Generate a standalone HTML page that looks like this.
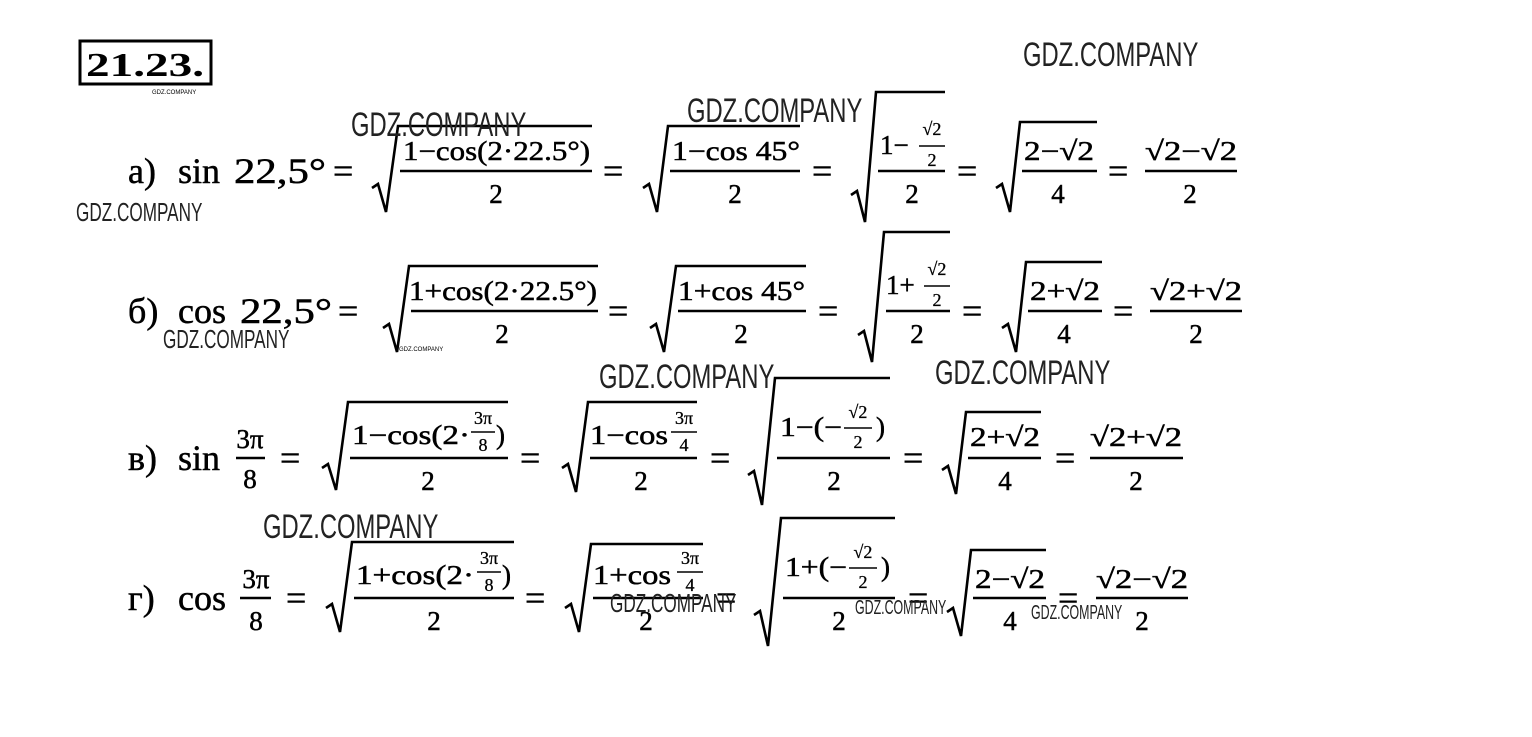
<!DOCTYPE html>
<html><head><meta charset="utf-8"><style>
html,body{margin:0;padding:0;background:#fff;}
svg{display:block;}
.m{font-family:"Liberation Serif",serif;font-size:36px;fill:#000;stroke:#000;stroke-width:0.5;}
.n{font-family:"Liberation Serif",serif;font-size:27px;fill:#000;stroke:#000;stroke-width:0.5;}
.s{font-family:"Liberation Serif",serif;font-size:18px;fill:#000;stroke:#000;stroke-width:0.3;}
.w{font-family:"Liberation Sans Narrow","Liberation Sans",sans-serif;font-size:34px;fill:#222;}
.ws{font-family:"Liberation Sans Narrow","Liberation Sans",sans-serif;font-size:20px;fill:#222;}
path,line{stroke:#000;fill:none;stroke-width:2.6;}
</style></head><body>
<svg width="1532" height="737" viewBox="0 0 1532 737">
<rect x="80" y="41" width="131" height="43" fill="none" stroke="#000" stroke-width="3"/>
<text x="145" y="76" text-anchor="middle" textLength="118" lengthAdjust="spacingAndGlyphs" style="font-family:'Liberation Serif',serif;font-weight:bold;font-size:34px">21.23.</text>
<text x="152" y="94" style="font-family:'Liberation Sans',sans-serif;font-size:6px">GDZ.COMPANY</text>

<!-- Row a -->
<text class="m" x="128" y="183">а)</text>
<text class="m" x="178" y="183">sin</text>
<text class="m" x="234" y="183" textLength="92" lengthAdjust="spacingAndGlyphs">22,5°</text>
<text class="m" x="333" y="183">=</text>
<path d="M372,188 L378,184 L386,212 L398,126 L592,126"/>
<text class="n" x="403" y="160" textLength="187" lengthAdjust="spacingAndGlyphs">1−cos(2·22.5°)</text>
<line x1="400" y1="171" x2="592" y2="171"/>
<text class="n" x="496" y="203" text-anchor="middle">2</text>
<text class="m" x="603" y="183">=</text>
<path d="M643,188 L649,184 L657,212 L668,126 L800,126"/>
<text class="n" x="672" y="160" textLength="128" lengthAdjust="spacingAndGlyphs">1−cos 45°</text>
<line x1="670" y1="171" x2="800" y2="171"/>
<text class="n" x="735" y="203" text-anchor="middle">2</text>
<text class="m" x="812" y="183">=</text>
<path d="M851,195 L857,191 L865,222 L876,92 L945,92"/>
<text class="n" x="880" y="154">1−</text>
<text class="s" x="932" y="135" text-anchor="middle">√2</text>
<line x1="919" y1="146" x2="945" y2="146" style="stroke-width:1.5"/>
<text class="s" x="932" y="166" text-anchor="middle">2</text>
<line x1="878" y1="171" x2="945" y2="171"/>
<text class="n" x="912" y="203" text-anchor="middle">2</text>
<text class="m" x="957" y="183">=</text>
<path d="M996,188 L1002,184 L1010,212 L1020,122 L1097,122"/>
<text class="n" x="1024" y="160" textLength="70" lengthAdjust="spacingAndGlyphs">2−√2</text>
<line x1="1022" y1="171" x2="1097" y2="171"/>
<text class="n" x="1058" y="203" text-anchor="middle">4</text>
<text class="m" x="1108" y="183">=</text>
<text class="n" x="1145" y="160" textLength="92" lengthAdjust="spacingAndGlyphs">√2−√2</text>
<line x1="1145" y1="171" x2="1237" y2="171"/>
<text class="n" x="1190" y="203" text-anchor="middle">2</text>

<!-- Row b -->
<text class="m" x="128" y="323">б)</text>
<text class="m" x="178" y="323">cos</text>
<text class="m" x="240" y="323" textLength="92" lengthAdjust="spacingAndGlyphs">22,5°</text>
<text class="m" x="338" y="323">=</text>
<path d="M383,328 L389,324 L397,352 L409,266 L598,266"/>
<text class="n" x="409" y="300" textLength="188" lengthAdjust="spacingAndGlyphs">1+cos(2·22.5°)</text>
<line x1="411" y1="311" x2="598" y2="311"/>
<text class="n" x="502" y="343" text-anchor="middle">2</text>
<text class="m" x="608" y="323">=</text>
<path d="M650,328 L656,324 L664,352 L676,266 L806,266"/>
<text class="n" x="678" y="300" textLength="127" lengthAdjust="spacingAndGlyphs">1+cos 45°</text>
<line x1="678" y1="311" x2="806" y2="311"/>
<text class="n" x="741" y="343" text-anchor="middle">2</text>
<text class="m" x="818" y="323">=</text>
<path d="M858,335 L864,331 L872,362 L884,232 L950,232"/>
<text class="n" x="886" y="294">1+</text>
<text class="s" x="937" y="275" text-anchor="middle">√2</text>
<line x1="924" y1="286" x2="950" y2="286" style="stroke-width:1.5"/>
<text class="s" x="937" y="306" text-anchor="middle">2</text>
<line x1="886" y1="311" x2="950" y2="311"/>
<text class="n" x="917" y="343" text-anchor="middle">2</text>
<text class="m" x="962" y="323">=</text>
<path d="M1002,328 L1008,324 L1016,352 L1026,262 L1102,262"/>
<text class="n" x="1030" y="300" textLength="70" lengthAdjust="spacingAndGlyphs">2+√2</text>
<line x1="1028" y1="311" x2="1102" y2="311"/>
<text class="n" x="1064" y="343" text-anchor="middle">4</text>
<text class="m" x="1113" y="323">=</text>
<text class="n" x="1150" y="300" textLength="92" lengthAdjust="spacingAndGlyphs">√2+√2</text>
<line x1="1150" y1="311" x2="1242" y2="311"/>
<text class="n" x="1196" y="343" text-anchor="middle">2</text>

<!-- Row c -->
<text class="m" x="128" y="470">в)</text>
<text class="m" x="178" y="470">sin</text>
<text class="n" x="250" y="448" text-anchor="middle">3π</text>
<line x1="236" y1="458" x2="265" y2="458"/>
<text class="n" x="250" y="488" text-anchor="middle">8</text>
<text class="m" x="280" y="470">=</text>
<path d="M322,468 L328,464 L336,490 L348,402 L508,402"/>
<text class="n" x="352" y="444" textLength="118" lengthAdjust="spacingAndGlyphs">1−cos(2·</text>
<text class="s" x="483" y="424" text-anchor="middle">3π</text>
<line x1="471" y1="432" x2="495" y2="432" style="stroke-width:1.5"/>
<text class="s" x="483" y="451" text-anchor="middle">8</text>
<text class="n" x="496" y="444">)</text>
<line x1="350" y1="458" x2="508" y2="458"/>
<text class="n" x="428" y="490" text-anchor="middle">2</text>
<text class="m" x="520" y="470">=</text>
<path d="M562,468 L568,464 L576,492 L588,402 L697,402"/>
<text class="n" x="590" y="444" textLength="78" lengthAdjust="spacingAndGlyphs">1−cos</text>
<text class="s" x="684" y="424" text-anchor="middle">3π</text>
<line x1="671" y1="432" x2="697" y2="432" style="stroke-width:1.5"/>
<text class="s" x="684" y="451" text-anchor="middle">4</text>
<line x1="590" y1="458" x2="697" y2="458"/>
<text class="n" x="641" y="490" text-anchor="middle">2</text>
<text class="m" x="710" y="470">=</text>
<path d="M748,475 L754,471 L762,505 L775,378 L890,378"/>
<text class="n" x="780" y="436" textLength="62" lengthAdjust="spacingAndGlyphs">1−(−</text>
<text class="s" x="858" y="418" text-anchor="middle">√2</text>
<line x1="844" y1="428" x2="872" y2="428" style="stroke-width:1.5"/>
<text class="s" x="858" y="448" text-anchor="middle">2</text>
<text class="n" x="876" y="436">)</text>
<line x1="777" y1="458" x2="890" y2="458"/>
<text class="n" x="834" y="490" text-anchor="middle">2</text>
<text class="m" x="903" y="470">=</text>
<path d="M942,470 L948,466 L956,494 L966,412 L1041,412"/>
<text class="n" x="970" y="446" textLength="70" lengthAdjust="spacingAndGlyphs">2+√2</text>
<line x1="968" y1="458" x2="1041" y2="458"/>
<text class="n" x="1005" y="490" text-anchor="middle">4</text>
<text class="m" x="1055" y="470">=</text>
<text class="n" x="1090" y="446" textLength="92" lengthAdjust="spacingAndGlyphs">√2+√2</text>
<line x1="1090" y1="458" x2="1183" y2="458"/>
<text class="n" x="1136" y="490" text-anchor="middle">2</text>

<!-- Row d -->
<text class="m" x="128" y="610">г)</text>
<text class="m" x="178" y="610">cos</text>
<text class="n" x="256" y="588" text-anchor="middle">3π</text>
<line x1="240" y1="598" x2="271" y2="598"/>
<text class="n" x="256" y="630" text-anchor="middle">8</text>
<text class="m" x="286" y="610">=</text>
<path d="M326,608 L332,604 L340,632 L352,542 L514,542"/>
<text class="n" x="356" y="584" textLength="118" lengthAdjust="spacingAndGlyphs">1+cos(2·</text>
<text class="s" x="489" y="564" text-anchor="middle">3π</text>
<line x1="477" y1="572" x2="501" y2="572" style="stroke-width:1.5"/>
<text class="s" x="489" y="591" text-anchor="middle">8</text>
<text class="n" x="502" y="584">)</text>
<line x1="354" y1="598" x2="514" y2="598"/>
<text class="n" x="434" y="630" text-anchor="middle">2</text>
<text class="m" x="525" y="610">=</text>
<path d="M565,608 L571,604 L579,632 L591,544 L703,544"/>
<text class="n" x="593" y="584" textLength="78" lengthAdjust="spacingAndGlyphs">1+cos</text>
<text class="s" x="690" y="564" text-anchor="middle">3π</text>
<line x1="677" y1="572" x2="703" y2="572" style="stroke-width:1.5"/>
<text class="s" x="690" y="591" text-anchor="middle">4</text>
<line x1="593" y1="598" x2="703" y2="598"/>
<text class="n" x="646" y="630" text-anchor="middle">2</text>
<text class="m" x="716" y="610">=</text>
<path d="M754,615 L760,611 L768,646 L781,518 L895,518"/>
<text class="n" x="785" y="576" textLength="62" lengthAdjust="spacingAndGlyphs">1+(−</text>
<text class="s" x="863" y="558" text-anchor="middle">√2</text>
<line x1="849" y1="568" x2="877" y2="568" style="stroke-width:1.5"/>
<text class="s" x="863" y="588" text-anchor="middle">2</text>
<text class="n" x="881" y="576">)</text>
<line x1="783" y1="598" x2="895" y2="598"/>
<text class="n" x="839" y="630" text-anchor="middle">2</text>
<text class="m" x="908" y="610">=</text>
<path d="M947,612 L953,608 L961,636 L971,550 L1046,550"/>
<text class="n" x="975" y="588" textLength="70" lengthAdjust="spacingAndGlyphs">2−√2</text>
<line x1="973" y1="598" x2="1046" y2="598"/>
<text class="n" x="1010" y="630" text-anchor="middle">4</text>
<text class="m" x="1058" y="610">=</text>
<text class="n" x="1096" y="588" textLength="92" lengthAdjust="spacingAndGlyphs">√2−√2</text>
<line x1="1096" y1="598" x2="1188" y2="598"/>
<text class="n" x="1142" y="630" text-anchor="middle">2</text>

<!-- watermarks -->
<g transform="translate(1023,66) scale(0.70,1)"><text class="w" x="0" y="0">GDZ.COMPANY</text></g>
<g transform="translate(351,136) scale(0.70,1)"><text class="w" x="0" y="0">GDZ.COMPANY</text></g>
<g transform="translate(687,122) scale(0.70,1)"><text class="w" x="0" y="0">GDZ.COMPANY</text></g>
<g transform="translate(76,221) scale(0.66,1)"><text class="ws" x="0" y="0" style="font-size:26px">GDZ.COMPANY</text></g>
<g transform="translate(163,348) scale(0.66,1)"><text class="ws" x="0" y="0" style="font-size:26px">GDZ.COMPANY</text></g>
<g transform="translate(599,388) scale(0.70,1)"><text class="w" x="0" y="0">GDZ.COMPANY</text></g>
<g transform="translate(935,384) scale(0.70,1)"><text class="w" x="0" y="0">GDZ.COMPANY</text></g>
<g transform="translate(263,538) scale(0.70,1)"><text class="w" x="0" y="0">GDZ.COMPANY</text></g>
<g transform="translate(610,612) scale(0.66,1)"><text class="ws" x="0" y="0" style="font-size:26px">GDZ.COMPANY</text></g>
<g transform="translate(855,614) scale(0.62,1)"><text class="ws" x="0" y="0">GDZ.COMPANY</text></g>
<g transform="translate(1031,619) scale(0.62,1)"><text class="ws" x="0" y="0">GDZ.COMPANY</text></g>
<text x="399" y="351" style="font-family:'Liberation Sans',sans-serif;font-size:6px">GDZ.COMPANY</text>
</svg>
</body></html>
